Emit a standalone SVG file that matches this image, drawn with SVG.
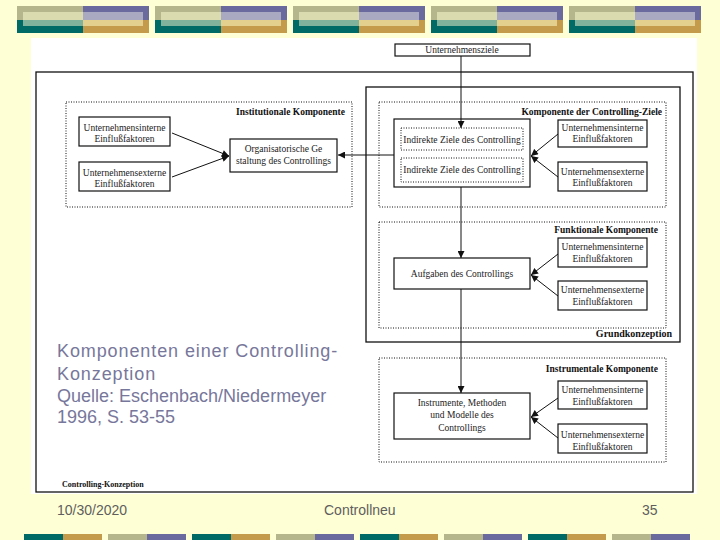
<svg xmlns="http://www.w3.org/2000/svg" xmlns:xlink="http://www.w3.org/1999/xlink" width="720" height="540" viewBox="0 0 720 540">
<style>
.box{fill:#fff;stroke:#111;stroke-width:1.2}
.dot{fill:none;stroke:#111;stroke-width:1;stroke-dasharray:1 1.5}
.frame{fill:none;stroke:#111;stroke-width:1.3}
.t{font-family:"Liberation Serif","Times New Roman",serif;font-size:9.5px;fill:#222;text-anchor:middle}
.h{font-family:"Liberation Serif","Times New Roman",serif;font-size:9.5px;font-weight:bold;fill:#111;text-anchor:end}
.cap{font-family:"Liberation Sans",Arial,sans-serif;font-size:18px;fill:#77779B}
.foot{font-family:"Liberation Sans",Arial,sans-serif;font-size:14px;fill:#5E5E5E}
.con{fill:none;stroke:#111;stroke-width:1}
.arr{marker-end:url(#ah)}
</style>
<defs>
<marker id="ah" viewBox="0 0 10 10" refX="10" refY="5" markerWidth="8" markerHeight="7" markerUnits="userSpaceOnUse" orient="auto">
<path d="M0,0 L10,5 L0,10 z" fill="#111"/>
</marker>
<g id="topblk">
<rect x="0" y="0" width="66" height="14" fill="#B6B68C"/>
<rect x="66" y="0" width="66" height="14" fill="#6A6A9E"/>
<rect x="0" y="14" width="66" height="13" fill="#006A66"/>
<rect x="66" y="14" width="66" height="13" fill="#C39B4B"/>
<rect x="6" y="6" width="60" height="8" fill="#DADCB0"/>
<rect x="66" y="6" width="60" height="8" fill="#A9A9C2"/>
<rect x="6" y="14" width="60" height="6" fill="#80B29C"/>
<rect x="66" y="14" width="60" height="6" fill="#E3D08F"/>
</g>
<g id="botA">
<rect x="0" y="0" width="39" height="6" fill="#006A66"/>
<rect x="39" y="0" width="39" height="6" fill="#C39B4B"/>
</g>
<g id="botB">
<rect x="0" y="0" width="39" height="6" fill="#B6B68C"/>
<rect x="39" y="0" width="39" height="6" fill="#6A6A9E"/>
</g>
</defs>

<rect x="0" y="0" width="720" height="540" fill="#FFFFD6"/>

<g id="top-bar">
<use xlink:href="#topblk" href="#topblk" x="17" y="6"/>
<use xlink:href="#topblk" href="#topblk" x="155" y="6"/>
<use xlink:href="#topblk" href="#topblk" x="293" y="6"/>
<use xlink:href="#topblk" href="#topblk" x="431" y="6"/>
<use xlink:href="#topblk" href="#topblk" x="569" y="6"/>
</g>
<g id="bottom-bar">
<use xlink:href="#botA" href="#botA" x="24" y="534"/>
<use xlink:href="#botB" href="#botB" x="108" y="534"/>
<use xlink:href="#botA" href="#botA" x="192" y="534"/>
<use xlink:href="#botB" href="#botB" x="276" y="534"/>
<use xlink:href="#botA" href="#botA" x="360" y="534"/>
<use xlink:href="#botB" href="#botB" x="444" y="534"/>
<use xlink:href="#botA" href="#botA" x="528" y="534"/>
<use xlink:href="#botB" href="#botB" x="612" y="534"/>
</g>

<rect x="31" y="38" width="666" height="456" fill="#fff"/>

<g id="frames">
<rect class="frame" x="36" y="72" width="657" height="420"/>
<rect class="frame" x="366" y="87" width="314" height="255"/>
<text class="h" x="672" y="337" style="font-size:10px">Grundkonzeption</text>
<text class="h" x="62" y="487" style="text-anchor:start;font-size:8px">Controlling-Konzeption</text>
</g>

<g id="institutionale">
<rect class="dot" x="66" y="102" width="286" height="105"/>
<text class="h" x="345" y="115">Institutionale Komponente</text>
</g>
<g id="inst-intern">
<rect class="box" x="79" y="117" width="91" height="29"/>
<text class="t" x="124.5" y="131">Unternehmensinterne</text>
<text class="t" x="124.5" y="142">Einflußfaktoren</text>
</g>
<g id="inst-extern">
<rect class="box" x="79" y="162" width="91" height="29"/>
<text class="t" x="124.5" y="176">Unternehmensexterne</text>
<text class="t" x="124.5" y="187">Einflußfaktoren</text>
</g>
<g id="org">
<rect class="box" x="230" y="139" width="107" height="33"/>
<text class="t" x="283.5" y="152">Organisatorische Ge</text>
<text class="t" x="283.5" y="164">staltung des Controllings</text>
</g>

<g id="ziele">
<rect class="box" x="395" y="44" width="135" height="12"/>
<text class="t" x="462" y="53">Unternehmensziele</text>
</g>

<g id="controlling-ziele">
<rect class="dot" x="379" y="102" width="287" height="105"/>
<text class="h" x="662" y="115">Komponente der Controlling-Ziele</text>
</g>
<g id="indirekte">
<rect class="box" x="394" y="119" width="136" height="68"/>
<rect class="dot" x="401" y="128" width="122" height="22"/>
<text class="t" x="462" y="143">Indirekte Ziele des Controlling</text>
<rect class="dot" x="401" y="158" width="122" height="24"/>
<text class="t" x="462" y="173">Indirekte Ziele des Controlling</text>
</g>
<g id="cz-intern">
<rect class="box" x="558" y="120" width="89" height="27"/>
<text class="t" x="602.5" y="131">Unternehmensinterne</text>
<text class="t" x="602.5" y="142">Einflußfaktoren</text>
</g>
<g id="cz-extern">
<rect class="box" x="558" y="162" width="89" height="29"/>
<text class="t" x="602.5" y="175">Unternehmensexterne</text>
<text class="t" x="602.5" y="186">Einflußfaktoren</text>
</g>

<g id="funktionale">
<rect class="dot" x="379" y="222" width="287" height="106"/>
<text class="h" x="658" y="233">Funktionale Komponente</text>
</g>
<g id="aufgaben">
<rect class="box" x="394" y="258" width="136" height="31"/>
<text class="t" x="462" y="277">Aufgaben des Controllings</text>
</g>
<g id="fk-intern">
<rect class="box" x="558" y="238" width="89" height="29"/>
<text class="t" x="602.5" y="250">Unternehmensinterne</text>
<text class="t" x="602.5" y="262">Einflußfaktoren</text>
</g>
<g id="fk-extern">
<rect class="box" x="558" y="281" width="89" height="29"/>
<text class="t" x="602.5" y="293">Unternehmensexterne</text>
<text class="t" x="602.5" y="305">Einflußfaktoren</text>
</g>

<g id="instrumentale">
<rect class="dot" x="379" y="358" width="287" height="104"/>
<text class="h" x="658" y="372">Instrumentale Komponente</text>
</g>
<g id="instrumente">
<rect class="box" x="394" y="393" width="136" height="46"/>
<text class="t" x="462" y="406">Instrumente, Methoden</text>
<text class="t" x="462" y="418">und Modelle des</text>
<text class="t" x="462" y="431">Controllings</text>
</g>
<g id="ik-intern">
<rect class="box" x="558" y="381" width="89" height="28"/>
<text class="t" x="602.5" y="393">Unternehmensinterne</text>
<text class="t" x="602.5" y="405">Einflußfaktoren</text>
</g>
<g id="ik-extern">
<rect class="box" x="558" y="424" width="89" height="29"/>
<text class="t" x="602.5" y="438">Unternehmensexterne</text>
<text class="t" x="602.5" y="450">Einflußfaktoren</text>
</g>

<g id="connectors">
<line class="con arr" x1="172" y1="133" x2="229" y2="156"/>
<line class="con arr" x1="172" y1="177" x2="229" y2="156"/>
<line class="con arr" x1="394" y1="155" x2="338" y2="155"/>
<line class="con arr" x1="461" y1="56" x2="461" y2="128"/>
<line class="con arr" x1="558" y1="134" x2="531" y2="156"/>
<line class="con arr" x1="558" y1="177" x2="531" y2="156"/>
<line class="con arr" x1="461" y1="187" x2="461" y2="258"/>
<line class="con arr" x1="558" y1="254" x2="531" y2="275"/>
<line class="con arr" x1="558" y1="296" x2="531" y2="275"/>
<line class="con arr" x1="461" y1="289" x2="461" y2="393"/>
<line class="con arr" x1="558" y1="398" x2="531" y2="417"/>
<line class="con arr" x1="558" y1="438" x2="531" y2="417"/>
</g>

<g id="caption">
<text class="cap" x="57" y="357" style="letter-spacing:0.9px">Komponenten einer Controlling-</text>
<text class="cap" x="57" y="380" style="letter-spacing:0.9px">Konzeption</text>
<text class="cap" x="57" y="402">Quelle: Eschenbach/Niedermeyer</text>
<text class="cap" x="57" y="423">1996, S. 53-55</text>
</g>

<g id="footer">
<text class="foot" x="57" y="515">10/30/2020</text>
<text class="foot" x="324" y="515">Controllneu</text>
<text class="foot" x="642" y="515">35</text>
</g>
</svg>
